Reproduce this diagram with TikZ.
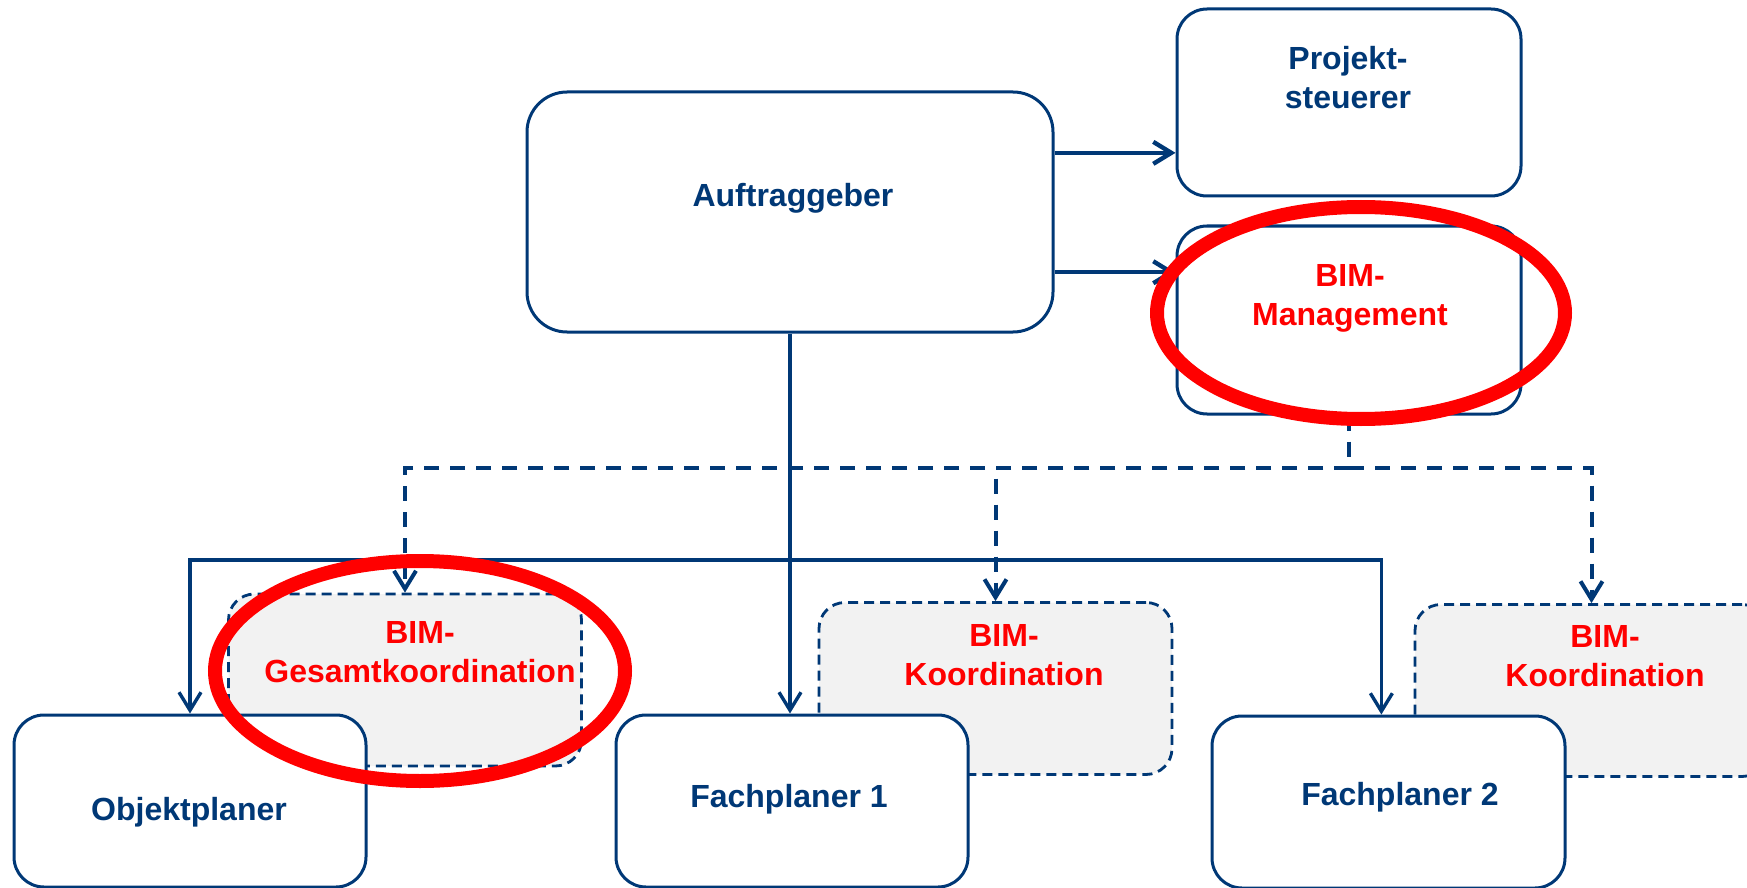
\documentclass[tikz,border=0pt]{standalone}
\usepackage{fontspec}
\setmainfont{Liberation Sans}
\usetikzlibrary{positioning,calc,arrows.meta}
\definecolor{bimblue}{RGB}{0,56,118}
\definecolor{bimgray}{RGB}{242,242,242}
\begin{document}
\begin{tikzpicture}[x=0.5pt,y=-0.5pt,
    box/.style={draw=bimblue,line width=1.5pt,fill=white,rounded corners=15pt,inner sep=0pt},
    koord/.style={draw=bimblue,line width=1.4pt,fill=bimgray,dash pattern=on 5pt off 3pt,
      rounded corners=13pt,inner sep=0pt,minimum width=176.5pt,minimum height=86pt},
    lbl/.style={text=bimblue,font=\fontsize{16}{19.5}\selectfont\bfseries,align=center},
    redlbl/.style={lbl,text=red},
    conn/.style={draw=bimblue,line width=1.7pt},
    arr/.style={conn,-{Straight Barb[length=9pt,width=11pt]}},
    dconn/.style={conn,line width=2pt,dash pattern=on 7.5pt off 5.5pt},
    darr/.style={dconn,-{Straight Barb[length=9pt,width=11pt]}},
    ring/.style={draw=red,line width=7pt}]
  \useasboundingbox (0,0) rectangle (1747,888);

  \node[koord] (gk) at (405,680) {};
  \node[koord] (k1) at (995.5,688.5) {};
  \node[koord] (k2) at (1591.5,690.5) {};

  \node[box,rounded corners=20pt,minimum width=263pt,minimum height=120pt] (ag) at (790,212) {};
  \node[box,minimum width=172pt,minimum height=93.5pt] (ps) at (1349,102.5) {};
  \node[box,minimum width=172pt,minimum height=94pt] (bm) at (1349,320) {};
  \node[box,minimum width=176pt,minimum height=86pt] (op) at (190,801) {};
  \node[box,minimum width=176pt,minimum height=86pt] (fp1) at (792,801) {};
  \node[box,minimum width=176.5pt,minimum height=86pt] (fp2) at (1388.5,802) {};

  \coordinate (p1) at ($(ps.north west)!.765!(ps.south west)$);
  \coordinate (p2) at ($(bm.north west)!.25!(bm.south west)$);
  \draw[arr,line width=2.2pt] (ag.east |- p1) -- (p1);
  \draw[arr,line width=2.2pt] (ag.east |- p2) -- (p2);

  \coordinate (bus) at (ag.south |- 0,560);
  \coordinate (fp2in) at ($(fp2.north west)!.48!(fp2.north east)$);
  \draw[arr] (ag.south) -- (ag.south |- fp1.north);
  \draw[arr] (bus) -| (op.north);
  \draw[arr] (bus) -| (fp2in);

  \coordinate (dbus) at (bm.south |- 0,468);
  \draw[dconn] (bm.south) -- (dbus);
  \draw[darr] (dbus) -| (gk.north);
  \draw[darr] (dbus) -| (k1.north);
  \draw[darr] (dbus) -| (k2.north);

  \node[lbl] (agt) at (793,198) {Auftraggeber};
  \node[lbl] (pst) at (1348,78) {Projekt-\\steuerer};
  \node[redlbl] (bmt) at (1350,298) {BIM-\\Management};
  \node[redlbl] (gkt) at (420,652) {BIM-\\Gesamtkoordination};
  \node[redlbl] (k1t) at (1004,655) {BIM-\\Koordination};
  \node[redlbl] (k2t) at (1605,656) {BIM-\\Koordination};
  \node[lbl] (opt) at (189,812) {Objektplaner};
  \node[lbl] (fp1t) at (789,799) {Fachplaner 1};
  \node[lbl] (fp2t) at (1400,797) {Fachplaner 2};

  \draw[ring] (1361,313) ellipse [x radius=102pt,y radius=53pt];
  \draw[ring] (420,671) ellipse [x radius=102.5pt,y radius=55pt];
\end{tikzpicture}
\end{document}
